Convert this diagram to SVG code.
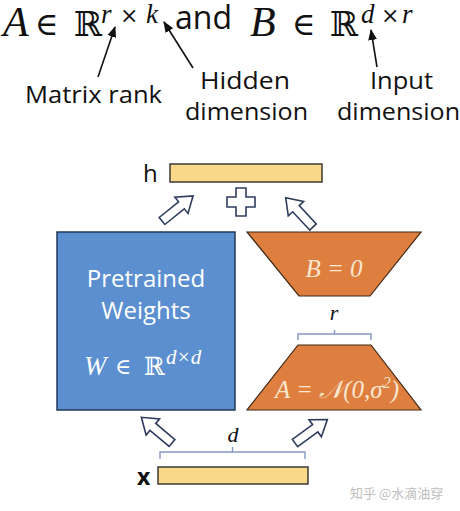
<svg xmlns="http://www.w3.org/2000/svg" width="460" height="511" viewBox="0 0 460 511">
<style>
.math{font-family:"Liberation Serif","DejaVu Serif",serif;font-style:italic;fill:#111}
.sym{font-family:"DejaVu Serif","Liberation Serif",serif;fill:#111}
.lbl{font-family:"Open Sans","Liberation Sans",sans-serif;fill:#111}
.ptr{stroke:#111;stroke-width:1.6;fill:none}
.bar{fill:#F9D887;stroke:#3a3a3a;stroke-width:1.5}
.trap{fill:#DE7E3F;stroke:#3d2815;stroke-width:1.2}
.blk{fill:#fff;stroke:#2E3D5E;stroke-width:1.6;stroke-linejoin:miter}
.brk{fill:none;stroke:#8497C2;stroke-width:1.4}
.wtxt{font-family:"Open Sans","Liberation Sans",sans-serif;fill:#fff;font-size:24px;text-anchor:middle}
.wmath{font-family:"Liberation Serif","DejaVu Serif",serif;font-style:italic;fill:#fff}
.wsym{font-family:"DejaVu Serif","Liberation Serif",serif;fill:#fff}
.omath{font-family:"Liberation Serif","DejaVu Serif",serif;font-style:italic;fill:#FBE6CF}
</style>
<defs>
<path id="barrow" d="M0,-4.5 L25,-4.5 L25,-10.5 L40,0 L25,10.5 L25,4.5 L0,4.5 Z"/>
<marker id="tip" viewBox="0 0 10 10" refX="9" refY="5" markerWidth="7" markerHeight="7" orient="auto-start-reverse"><path d="M0,1 L10,5 L0,9 Z" fill="#111"/></marker>
</defs>
<rect width="460" height="511" fill="#fff"/>

<g id="equation">
<text class="math" x="3" y="36" font-size="42">A</text>
<text class="sym" x="35" y="35" font-size="32">∈</text>
<text class="sym" x="74" y="36" font-size="34">ℝ</text>
<text class="math" x="101" y="23" font-size="27">r</text>
<text class="sym" x="120" y="23" font-size="22">×</text>
<text class="math" x="146" y="23" font-size="27">k</text>
<text class="lbl" x="175" y="29" font-size="32">and</text>
<text class="math" x="250" y="36" font-size="42">B</text>
<text class="sym" x="292" y="35" font-size="32">∈</text>
<text class="sym" x="330" y="36" font-size="34">ℝ</text>
<text class="math" x="361" y="23" font-size="27">d</text>
<text class="sym" x="381" y="23" font-size="22">×</text>
<text class="math" x="402" y="23" font-size="27">r</text>
</g>

<g id="labels">
<text class="lbl" x="25" y="103" font-size="23" textLength="137" lengthAdjust="spacingAndGlyphs">Matrix rank</text>
<text class="lbl" x="200" y="89" font-size="23" textLength="90" lengthAdjust="spacingAndGlyphs">Hidden</text>
<text class="lbl" x="185" y="120" font-size="23" textLength="123" lengthAdjust="spacingAndGlyphs">dimension</text>
<text class="lbl" x="370" y="89" font-size="23" textLength="63" lengthAdjust="spacingAndGlyphs">Input</text>
<text class="lbl" x="337" y="120" font-size="23" textLength="123" lengthAdjust="spacingAndGlyphs">dimension</text>
</g>

<g id="connectors">
<line class="ptr" x1="98" y1="77" x2="115" y2="27" marker-end="url(#tip)"/>
<line class="ptr" x1="193" y1="68" x2="164" y2="22" marker-end="url(#tip)"/>
<line class="ptr" x1="377" y1="67" x2="371" y2="30" marker-end="url(#tip)"/>
<use href="#barrow" class="blk" transform="translate(162,221) rotate(-39)"/>
<use href="#barrow" class="blk" transform="translate(313,227) rotate(-133)"/>
<use href="#barrow" class="blk" transform="translate(172,443) rotate(-140)"/>
<use href="#barrow" class="blk" transform="translate(295,443) rotate(-36)"/>
</g>

<g id="h">
<text class="lbl" x="143" y="182" font-size="24">h</text>
<rect class="bar" x="170" y="164" width="152" height="18"/>
</g>

<g id="plus">
<path class="blk" d="M236,188 H246 V197 H255 V207 H246 V216 H236 V207 H227 V197 H236 Z"/>
</g>

<g id="W">
<rect x="57" y="232" width="178" height="178" fill="#5B8FD0" stroke="#22385A" stroke-width="1.5"/>
<text class="wtxt" x="146" y="287">Pretrained</text>
<text class="wtxt" x="146" y="319">Weights</text>
<text class="wmath" x="84" y="375" font-size="27">W</text>
<text class="wsym" x="115" y="374" font-size="22">∈</text>
<text class="wsym" x="144" y="375" font-size="25">ℝ</text>
<text class="wmath" x="166" y="364" font-size="21">d×d</text>
</g>

<g id="B">
<path class="trap" d="M247,232 L421,232 L370,296 L299,296 Z"/>
<text class="omath" x="334" y="277" font-size="25" text-anchor="middle">B = 0</text>
</g>

<g id="r">
<text class="math" x="334" y="320" font-size="22" text-anchor="middle">r</text>
<path class="brk" d="M298,340 V334 H371 V340 M334.5,334 V330"/>
</g>

<g id="A">
<path class="trap" d="M298,345 L371,345 L421,410 L247,410 Z"/>
<text x="337" y="398" font-size="25" text-anchor="middle" class="omath">A = 𝒩(0,σ<tspan font-size="16" dy="-10">2</tspan><tspan dy="10">)</tspan></text>
</g>

<g id="d">
<text class="math" x="233" y="442" font-size="22" text-anchor="middle">d</text>
<path class="brk" d="M160,459 V452 H305 V459 M232.5,452 V447"/>
</g>

<g id="x">
<text class="lbl" x="137" y="485" font-size="23" font-weight="bold">x</text>
<rect class="bar" x="158" y="467" width="150" height="17"/>
</g>

<text x="350" y="498" font-family="Noto Sans CJK SC, sans-serif" font-size="13" fill="#bdbdbd">知乎 @水滴油穿</text>
</svg>
